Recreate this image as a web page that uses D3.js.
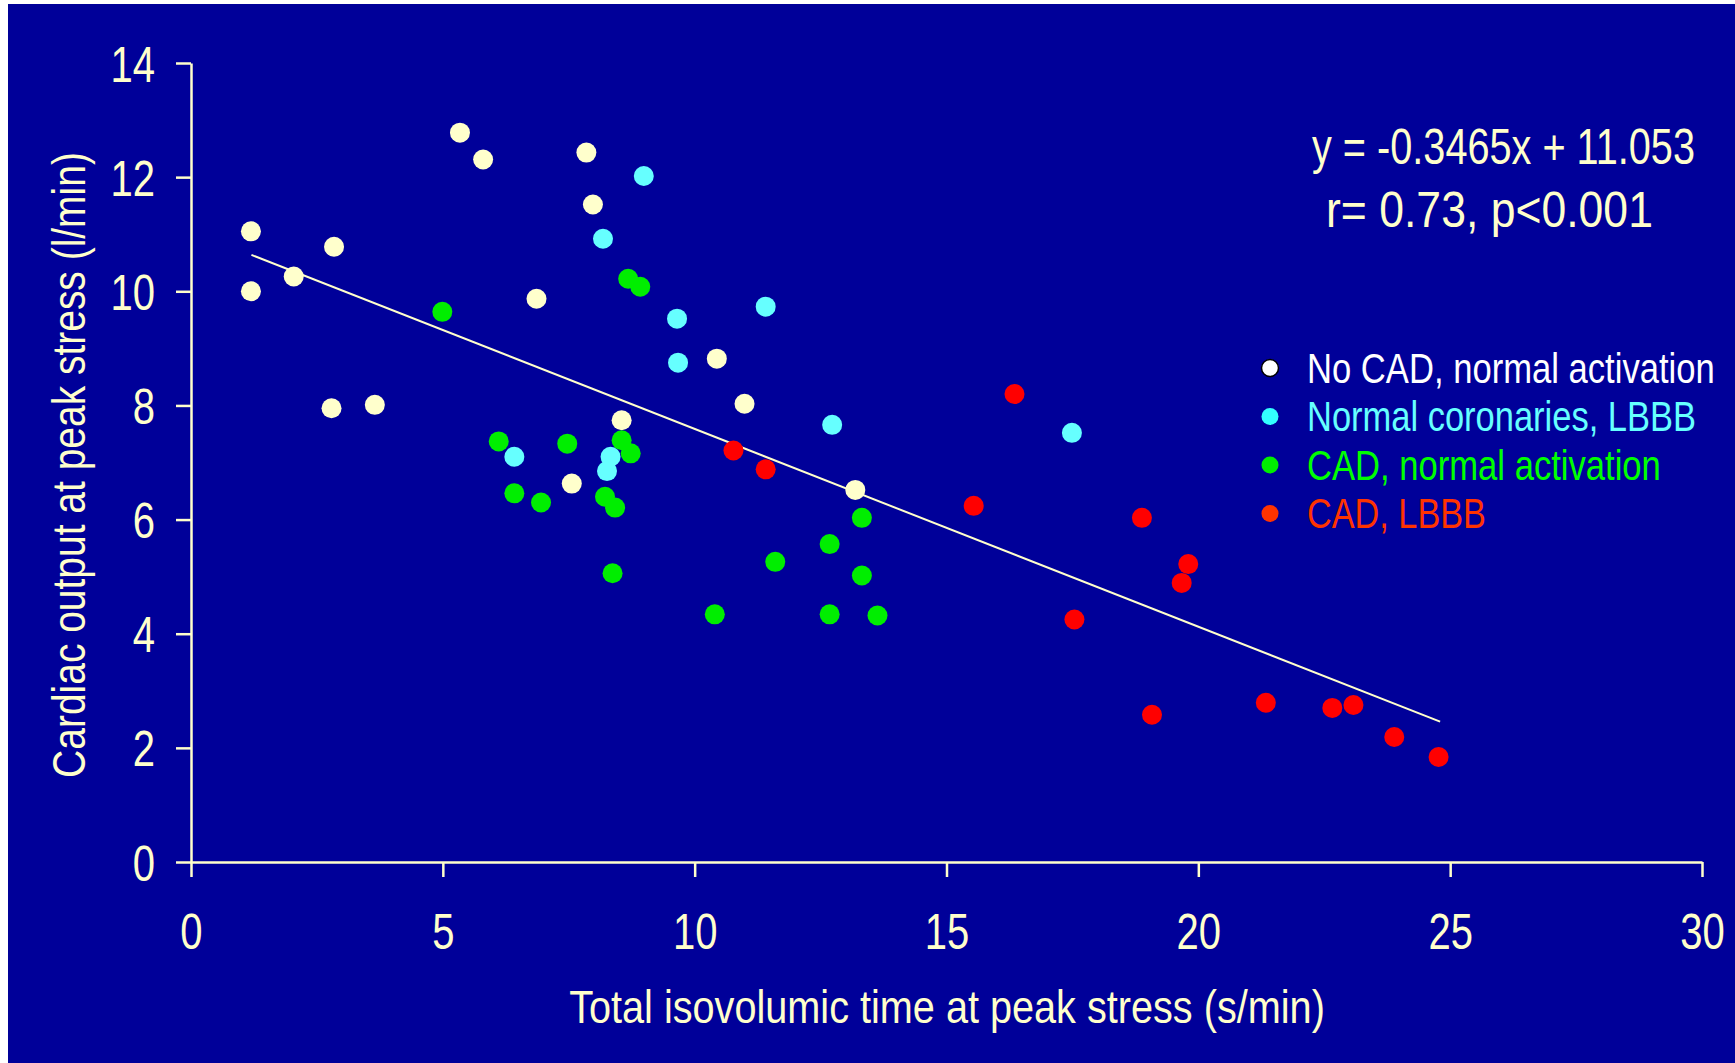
<!DOCTYPE html>
<html lang="en">
<head>
<meta charset="UTF-8">
<title>Cardiac output vs total isovolumic time</title>
<script src="https://cdn.jsdelivr.net/npm/d3@7"></script>
<style>
  html, body { margin: 0; padding: 0; background: #fff; }
  svg { display: block; }
  text { font-family: "Liberation Sans Narrow", "Liberation Sans", Arial, sans-serif; }
</style>
</head>
<body>
<div id="container"></div>
<script>
const width = 1735;
const height = 1063;
const marginLeft = 191;
const marginTop = 63;
const plotRight = 1702;
const plotBottom = 862;

// data: [total isovolumic time, cardiac output]
const noCadNormal = [
  [1.19, 11.05], [1.19, 10.0], [2.04, 10.26], [2.84, 10.78], [2.79, 7.95],
  [3.65, 8.01], [5.34, 12.78], [5.80, 12.31], [6.86, 9.87], [7.85, 12.43],
  [7.98, 11.52], [7.56, 6.63], [8.55, 7.74], [10.44, 8.82], [10.99, 8.03],
  [13.19, 6.52]
];
const normalLbbb = [
  [8.99, 12.02], [8.18, 10.92], [9.65, 9.52], [9.67, 8.75], [11.41, 9.73],
  [6.42, 7.10], [8.33, 7.10], [8.26, 6.85], [12.73, 7.66], [17.49, 7.52]
];
const cadNormal = [
  [4.99, 9.64], [8.68, 10.22], [8.92, 10.08], [6.11, 7.37], [6.42, 6.46],
  [6.95, 6.30], [7.47, 7.33], [8.55, 7.39], [8.73, 7.16], [8.22, 6.40],
  [8.42, 6.21], [8.37, 5.06], [10.40, 4.34], [11.60, 5.26], [12.68, 5.57],
  [13.32, 6.03], [13.32, 5.02], [12.68, 4.34], [13.63, 4.32]
];
const cadLbbb = [
  [10.77, 7.21], [11.41, 6.88], [16.35, 8.20], [15.54, 6.24], [17.54, 4.25],
  [18.88, 6.03], [19.80, 5.22], [19.67, 4.89], [19.08, 2.58], [21.34, 2.79],
  [22.66, 2.70], [23.08, 2.75], [23.89, 2.19], [24.77, 1.84]
];

const seriesNames = ["No CAD, normal activation", "Normal coronaries, LBBB", "CAD, normal activation", "CAD, LBBB"];
const xTicks = [0, 5, 10, 15, 20, 25, 30];
const yTicks = [0, 2, 4, 6, 8, 10, 12, 14];
const fitSlope = -0.3465;
const fitIntercept = 11.053;
const fitRange = [1.2, 24.8];
const statLines = ["y = -0.3465x + 11.053", "r= 0.73, p<0.001"];

const cream = "#ffffcc";
const groups = [
  { data: noCadNormal, fill: "#ffffcc", key: "#ffffff", text: "#ffffff" },
  { data: normalLbbb, fill: "#66ffff", key: "#33ffff", text: "#66ffff" },
  { data: cadNormal, fill: "#00ee00", key: "#00ee00", text: "#00ff00" },
  { data: cadLbbb, fill: "#ff0000", key: "#ff3300", text: "#ff3300" }
];

// the reference uses a narrow face; squeeze the regular one sideways
// around its anchor point so it fits the same width
function squeeze(sel, w) {
  sel.each(function () {
    const len = this.getComputedTextLength();
    const k = (w != null ? w : len * 0.8) / len;
    const ax = +this.getAttribute("x") || 0;
    const ay = +this.getAttribute("y") || 0;
    const prev = this.getAttribute("transform") || "";
    this.setAttribute("transform",
      `${prev} translate(${ax},${ay}) scale(${k},1) translate(${-ax},${-ay})`.trim());
  });
}

const x = d3.scaleLinear().domain([0, 30]).range([marginLeft, plotRight]);
const y = d3.scaleLinear().domain([0, 14]).range([plotBottom, marginTop]);

const svg = d3.create("svg").attr("width", width).attr("height", height);
document.getElementById("container").append(svg.node());

svg.append("rect")
  .attr("x", 8).attr("y", 4)
  .attr("width", width - 8).attr("height", height - 4)
  .attr("fill", "#000099");

// axes
const xAxis = svg.append("g")
  .attr("transform", `translate(0,${plotBottom})`)
  .call(d3.axisBottom(x).tickValues(xTicks).tickSize(15).tickSizeOuter(0).tickPadding(37));

const yAxis = svg.append("g")
  .attr("transform", `translate(${marginLeft},0)`)
  .call(d3.axisLeft(y).tickValues(yTicks).tickSize(15).tickSizeOuter(0).tickPadding(21));

yAxis.selectAll(".tick text").attr("dy", "0.36em");
[xAxis, yAxis].forEach(g => {
  g.attr("font-family", null).attr("font-size", null);
  g.select(".domain").attr("stroke", cream).attr("stroke-width", 2.5);
  g.selectAll(".tick line").attr("stroke", cream).attr("stroke-width", 2.5);
  g.selectAll(".tick text")
    .attr("fill", cream)
    .style("font-size", "50px");
  squeeze(g.selectAll(".tick text"));
});

// axis titles
squeeze(svg.append("text")
  .attr("x", 947)
  .attr("y", 1023)
  .attr("text-anchor", "middle")
  .attr("fill", cream)
  .style("font-size", "47px")
  .text("Total isovolumic time at peak stress (s/min)"), 756);

squeeze(svg.append("text")
  .attr("transform", `translate(85,465) rotate(-90)`)
  .attr("text-anchor", "middle")
  .attr("fill", cream)
  .style("font-size", "47px")
  .text("Cardiac output at peak stress (l/min)"), 626);

// regression line
svg.append("line")
  .attr("x1", x(fitRange[0])).attr("y1", y(fitSlope * fitRange[0] + fitIntercept))
  .attr("x2", x(fitRange[1])).attr("y2", y(fitSlope * fitRange[1] + fitIntercept))
  .attr("stroke", cream)
  .attr("stroke-width", 2);

// points
groups.forEach(gr => {
  svg.append("g")
    .selectAll("circle")
    .data(gr.data)
    .join("circle")
      .attr("cx", d => x(d[0]))
      .attr("cy", d => y(d[1]))
      .attr("r", 10)
      .attr("fill", gr.fill);
});

// equation text
squeeze(svg.append("text")
  .attr("x", 1312).attr("y", 164)
  .attr("fill", cream)
  .style("font-size", "50px")
  .text(statLines[0]), 383);
squeeze(svg.append("text")
  .attr("x", 1326).attr("y", 227)
  .attr("fill", cream)
  .style("font-size", "50px")
  .text(statLines[1]), 327);

// legend
const legendWidths = [408, 389, 354, 179];
const legend = svg.append("g");
seriesNames.forEach((name, i) => {
  const ly = 368 + i * 48.5;
  legend.append("circle")
    .attr("cx", 1270).attr("cy", ly)
    .attr("r", 8.5)
    .attr("fill", groups[i].key)
    .attr("stroke", i === 0 ? "#000000" : "none")
    .attr("stroke-width", 1.5);
  squeeze(legend.append("text")
    .attr("x", 1307).attr("y", ly + 15)
    .attr("fill", groups[i].text)
    .style("font-size", "43px")
    .text(name), legendWidths[i]);
});
</script>
</body>
</html>
